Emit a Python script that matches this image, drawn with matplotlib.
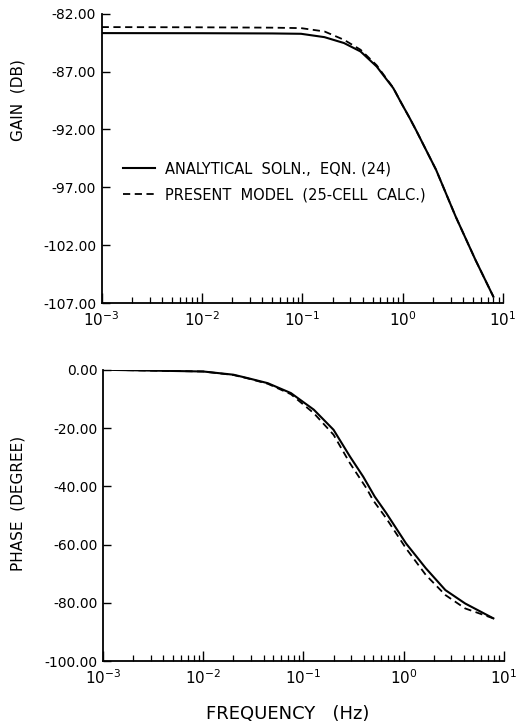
import matplotlib
matplotlib.use("Agg")
import matplotlib.pyplot as plt
import numpy as np
from matplotlib.ticker import LogLocator, FixedLocator, FormatStrFormatter, NullFormatter

# values
gain_freq = [0.001, 0.01, 0.05, 0.097, 0.166, 0.26, 0.38, 0.55, 0.805, 0.97, 1.17, 1.365, 2.15, 3.37, 5.31, 8.0]
gain_analytical = [-83.67, -83.68, -83.70, -83.73, -84.02, -84.53, -85.26, -86.56, -88.43, -89.73, -91.0, -92.1, -95.49, -99.53, -103.28, -106.45]
gain_model = [-83.15, -83.17, -83.20, -83.24, -83.53, -84.25, -85.11, -86.45, -88.40, -89.73, -91.0, -92.1, -95.49, -99.53, -103.28, -106.45]

phase_freq_a = [0.001, 0.01, 0.02, 0.028, 0.044, 0.075, 0.127, 0.2, 0.292, 0.396, 0.515, 0.673, 1.06, 1.67, 2.62, 4.13, 7.9]
phase_analytical = [0.0, -0.6, -1.7, -2.9, -4.6, -8.0, -13.7, -20.6, -29.8, -36.7, -43.5, -49.2, -59.6, -68.1, -75.6, -80.2, -85.3]
phase_freq_m = [0.001, 0.01, 0.02, 0.028, 0.044, 0.075, 0.127, 0.2, 0.292, 0.427, 0.495, 0.673, 1.06, 1.67, 2.62, 4.13, 7.9]
phase_model = [0.0, -0.6, -1.8, -3.0, -4.8, -8.4, -14.9, -22.3, -32.1, -40.7, -44.7, -51.0, -61.3, -70.4, -77.3, -81.9, -85.3]

xticks = [1e-3, 1e-2, 1e-1, 1e0, 1e1]
xlabels = ["$10^{-3}$", "$10^{-2}$", "$10^{-1}$", "$10^{0}$", "$10^{1}$"]
gain_ticks = [-107, -102, -97, -92, -87, -82]
phase_ticks = [-100, -80, -60, -40, -20, 0]

plt.rcParams["font.family"] = ["DejaVu Sans"]
plt.rcParams["mathtext.fontset"] = "dejavusans"

fig = plt.figure(figsize=(5.16, 7.25), dpi=100)
ax1 = fig.add_axes([0.197, 0.582, 0.778, 0.399])
ax2 = fig.add_axes([0.200, 0.088, 0.776, 0.402])


def style_axis(ax):
    ax.set_xscale("log")
    ax.set_xlim(1e-3, 1e1)
    ax.spines["top"].set_visible(False)
    ax.spines["right"].set_visible(False)
    ax.spines["left"].set_linewidth(1.3)
    ax.spines["bottom"].set_linewidth(1.3)
    ax.xaxis.set_major_locator(FixedLocator(xticks))
    ax.set_xticklabels(xlabels)
    ax.xaxis.set_minor_locator(LogLocator(base=10, subs=np.arange(2, 10), numticks=20))
    ax.xaxis.set_minor_formatter(NullFormatter())
    ax.tick_params(axis="x", which="major", direction="in", length=7, width=1.0, labelsize=11, pad=5)
    ax.tick_params(axis="x", which="minor", direction="in", length=4, width=0.9)
    ax.tick_params(axis="y", which="major", direction="in", length=6, width=1.0, labelsize=10, pad=4)
    ax.yaxis.set_major_formatter(FormatStrFormatter("%.2f"))


# gain panel
ax1.plot(gain_freq, gain_analytical, color="black", lw=1.5, label="ANALYTICAL  SOLN.,  EQN. (24)")
ax1.plot(gain_freq, gain_model, color="black", lw=1.3, ls=(0, (4, 2.5)), label="PRESENT  MODEL  (25-CELL  CALC.)")
style_axis(ax1)
ax1.set_ylim(-107, -82)
ax1.set_yticks(gain_ticks)
ax1.set_ylabel("GAIN  (DB)", fontsize=11)
ax1.yaxis.set_label_coords(-0.19, 0.70)
ax1.legend(loc="upper left", bbox_to_anchor=(0.02, 0.535), frameon=False, fontsize=10.5,
           handlelength=2.2, handletextpad=0.7, labelspacing=0.75)

# phase panel
ax2.plot(phase_freq_a, phase_analytical, color="black", lw=1.5)
ax2.plot(phase_freq_m, phase_model, color="black", lw=1.3, ls=(0, (4, 2.5)))
style_axis(ax2)
ax2.set_ylim(-100, 0)
ax2.set_yticks(phase_ticks)
ax2.set_ylabel("PHASE  (DEGREE)", fontsize=11)
ax2.yaxis.set_label_coords(-0.195, 0.54)
ax2.set_xlabel("FREQUENCY   (Hz)", fontsize=13, labelpad=10)
ax2.xaxis.set_label_coords(0.46, -0.15)

fig.savefig("out.png", dpi=100)
